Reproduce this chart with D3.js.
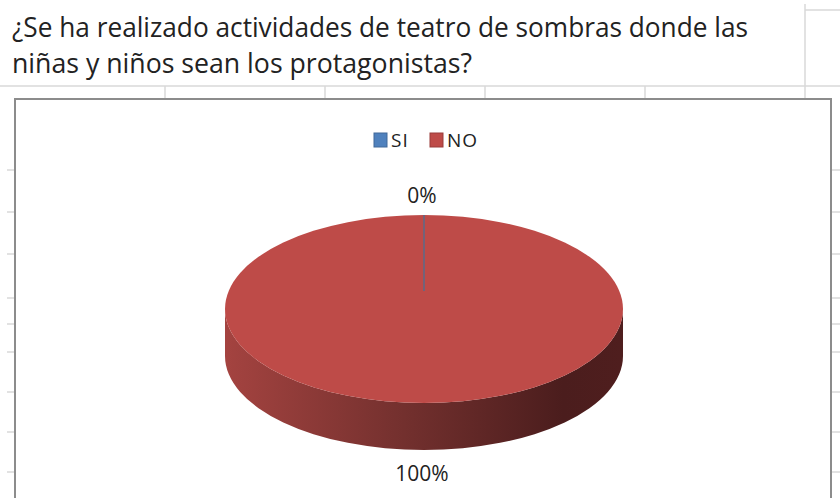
<!DOCTYPE html>
<html>
<head>
<meta charset="utf-8">
<script src="https://cdn.jsdelivr.net/npm/d3@7"></script>
<style>
  body { margin: 0; background: #fff; }
  svg { display: block; font-family: "Open Sans", "Noto Sans", sans-serif; }
</style>
</head>
<body>
<div class="pie-chart"></div>
<script>
// data
var titleLines = ["¿Se ha realizado actividades de teatro de sombras donde las",
                  "niñas y niños sean los protagonistas?"];
var categories = ["SI", "NO"];
var values = [0, 100];
var colors = ["#4f81bd", "#be4b48"];

// sheet grid (just decoration around the chart)
var rowLines = [170, 212, 254, 298, 324, 352, 392, 432, 472];
var colLines = [165, 325, 485, 645, 805];

var view = {
    width: 840,
    height: 498,
    init() {
        this.svg = d3.select(".pie-chart")
            .append("svg")
            .attr("width", this.width)
            .attr("height", this.height);

        var defs = this.svg.append("defs");
        var grad = defs.append("linearGradient")
            .attr("id", "side")
            .attr("x1", "0").attr("x2", "1").attr("y1", "0").attr("y2", "0");
        grad.append("stop").attr("offset", "0").attr("stop-color", "#a44340");
        grad.append("stop").attr("offset", "0.45").attr("stop-color", "#73302e");
        grad.append("stop").attr("offset", "0.85").attr("stop-color", "#4b1d1d");
        grad.append("stop").attr("offset", "1").attr("stop-color", "#4f1e1e");
    },
    drawSheet() {
        var g = this.svg.append("g").attr("stroke", "#d8d8d8").attr("stroke-width", 1.5);
        //header row line + column separators
        g.append("line").attr("x1", 0).attr("x2", this.width).attr("y1", 86).attr("y2", 86);
        g.selectAll(".col").data(colLines).enter().append("line")
            .attr("x1", d => d).attr("x2", d => d).attr("y1", 86).attr("y2", 98);
        g.append("line").attr("x1", 805).attr("x2", 805).attr("y1", 4).attr("y2", 86);
        g.append("line").attr("x1", 805).attr("x2", this.width).attr("y1", 10).attr("y2", 10);
        //row stubs on both sides of chart
        g.selectAll(".rl").data(rowLines).enter().append("line")
            .attr("x1", 7).attr("x2", 14).attr("y1", d => d).attr("y2", d => d);
        g.selectAll(".rr").data(rowLines).enter().append("line")
            .attr("x1", 832).attr("x2", this.width).attr("y1", d => d).attr("y2", d => d);

        //title text (calibri-ish: tall and narrow)
        var lens = [736, 460];
        this.svg.selectAll(".title").data(titleLines).enter().append("text")
            .attr("x", 12)
            .attr("y", (d, i) => 37 + i * 36)
            .attr("font-size", 27)
            .attr("fill", "#222")
            .attr("textLength", (d, i) => lens[i])
            .attr("lengthAdjust", "spacingAndGlyphs")
            .text(d => d);

        //chart frame
        this.svg.append("path")
            .attr("d", "M15,505 L15,99 L831,99 L831,505")
            .attr("fill", "#fff")
            .attr("stroke", "#8c8c8c")
            .attr("stroke-width", 2);
    },
    drawLegend() {
        var x = d3.scalePoint().domain(categories).range([374, 430]);
        var g = this.svg.append("g");
        var items = g.selectAll(".leg").data(categories).enter().append("g")
            .attr("transform", d => "translate(" + x(d) + ",133)");
        items.append("rect")
            .attr("width", 13).attr("height", 14)
            .attr("fill", (d, i) => colors[i])
            .attr("stroke", (d, i) => d3.color(colors[i]).darker(0.6));
        items.append("text")
            .attr("x", 17).attr("y", 14)
            .attr("font-size", 19)
            .attr("letter-spacing", 1)
            .attr("fill", "#222")
            .text(d => d);
    },
    drawPie() {
        var cx = 424, cy = 309, rx = 199, ry = 94, depth = 47;
        var sy = ry / rx;
        var pie = d3.pie().sort(null).value(d => d.value);
        var arcs = pie(categories.map((c, i) => ({ name: c, value: values[i], color: colors[i] })));
        var arc = d3.arc().innerRadius(0).outerRadius(rx);

        //side wall (front half)
        this.svg.append("path")
            .attr("d", "M" + (cx + rx) + "," + cy +
                " A" + rx + "," + ry + " 0 0 1 " + (cx - rx) + "," + cy +
                " L" + (cx - rx) + "," + (cy + depth) +
                " A" + rx + "," + ry + " 0 0 0 " + (cx + rx) + "," + (cy + depth) + " Z")
            .attr("fill", "url(#side)");

        //top face
        var top = this.svg.append("g")
            .attr("transform", "translate(" + cx + "," + cy + ") scale(1," + sy + ")");
        top.selectAll(".slice").data(arcs).enter().append("path")
            .attr("d", arc)
            .attr("fill", d => d.data.color);

        //0% slice edge
        arcs.filter(d => d.data.value === 0).forEach(d => {
            top.append("line")
                .attr("x1", 0).attr("y1", -18 / sy)
                .attr("x2", rx * Math.sin(d.startAngle)).attr("y2", -rx * Math.cos(d.startAngle))
                .attr("stroke", "#5a6a8a")
                .attr("stroke-width", 1.5)
                .attr("vector-effect", "non-scaling-stroke");
        });

        //labels
        var total = d3.sum(values);
        this.svg.selectAll(".lbl").data(arcs).enter().append("text")
            .attr("x", d => {
                var a = (d.startAngle + d.endAngle) / 2;
                return cx - 2 + (rx + 20) * Math.sin(a);
            })
            .attr("y", d => {
                var a = (d.startAngle + d.endAngle) / 2;
                var y = cy - (ry + 12) * Math.cos(a);
                return (Math.cos(a) < 0 ? y + depth + 19 : y);
            })
            .attr("text-anchor", "middle")
            .attr("font-size", 21)
            .attr("fill", "#222")
            .text(d => Math.round(d.data.value / total * 100) + "%");
    }
};

var controller = {
    init() {
        view.init();
        view.drawSheet();
        view.drawLegend();
        view.drawPie();
    }
};

controller.init();
</script>
</body>
</html>
